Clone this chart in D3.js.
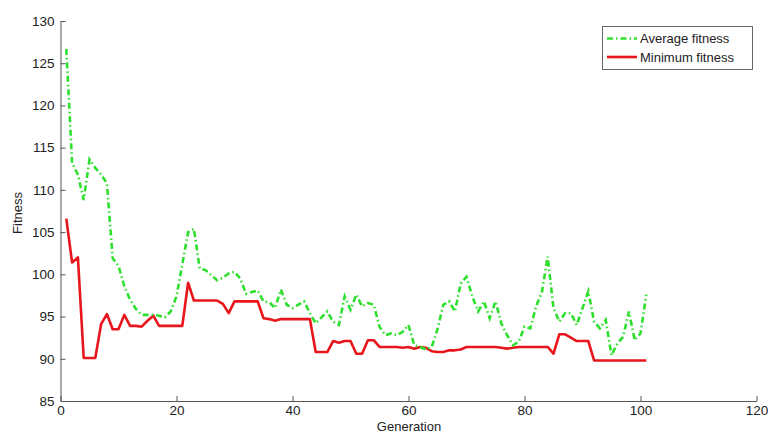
<!DOCTYPE html>
<html><head><meta charset="utf-8">
<script src="https://cdn.jsdelivr.net/npm/d3@7"></script>
<style>
html,body{margin:0;padding:0;background:#fff;}
svg{display:block;font-family:"Liberation Sans",Arial,sans-serif;}
</style></head>
<body><svg id="c" width="768" height="435"></svg>
<script>
const avgFitness = [126.7,113.2,111.8,108.8,113.6,112.6,111.8,110.8,101.9,101,
98.6,97,95.9,95.2,95.2,95.2,95.1,94.9,95.6,97.4,
101.2,105,105.4,100.7,100.5,99.9,99.3,99.6,100.1,100.3,
99.5,97.7,97.9,98.1,96.8,96.7,96.0,98.2,96.4,96.0,
96.4,96.8,95.4,94.2,94.9,95.6,94.4,94.0,97.4,95.8,
97.6,96.2,96.6,96.4,93.8,92.8,93,92.8,93.2,94,
91.6,91.4,91.1,91.4,93.5,96.4,96.8,95.6,98.9,99.7,
97.4,95.6,96.8,94.8,96.8,94.2,92.8,91.6,92,93.8,
93.6,96.2,97.9,102.1,96,94.4,95.4,95.4,94,96,
98,94.4,93.6,94.6,90.4,91.8,92.6,95.6,92.2,93,97.6];
const minFitness = [106.6,101.4,102,90.1,90.1,90.1,94.1,95.3,93.5,93.5,
95.2,93.9,93.9,93.8,94.5,95.1,93.9,93.9,93.9,93.9,
93.9,99,96.9,96.9,96.9,96.9,96.9,96.5,95.4,96.8,
96.8,96.8,96.8,96.8,94.8,94.7,94.5,94.7,94.7,94.7,
94.7,94.7,94.7,90.8,90.8,90.8,92.1,91.9,92.1,92.1,
90.6,90.6,92.2,92.2,91.4,91.4,91.4,91.4,91.3,91.4,
91.2,91.4,91.3,90.9,90.8,90.8,91,91,91.1,91.4,
91.4,91.4,91.4,91.4,91.4,91.3,91.2,91.3,91.4,91.4,
91.4,91.4,91.4,91.4,90.6,92.9,92.9,92.5,92.1,92.1,
92.1,89.8,89.8,89.8,89.8,89.8,89.8,89.8,89.8,89.8,89.8];
const generations = avgFitness.map((_, i) => i + 1);
const xTicks = [0,20,40,60,80,100,120];
const yTicks = [85,90,95,100,105,110,115,120,125,130];
const seriesNames = ["Average fitness","Minimum fitness"];

const svg = d3.select("#c");
const x = d3.scaleLinear().domain([0,120]).range([60.5,756.5]);
const y = d3.scaleLinear().domain([85,130]).range([401,21]);
const axisColor = "#555";

const gx = svg.append("g").attr("transform","translate(0,401)")
  .call(d3.axisBottom(x).tickValues(xTicks).tickSizeInner(-5).tickSizeOuter(0).tickPadding(4));
const gy = svg.append("g").attr("transform","translate(60.5,0)")
  .call(d3.axisLeft(y).tickValues(yTicks).tickSizeInner(-5).tickSizeOuter(0).tickPadding(6));
[gx,gy].forEach(g=>{
  g.selectAll("path,line").attr("stroke",axisColor).attr("stroke-width",1);
  g.selectAll("text").attr("fill","#222").style("font-size","13.5px").style("font-family","Liberation Sans, Arial, sans-serif");
});

svg.append("text").attr("x",409).attr("y",431).attr("text-anchor","middle")
  .attr("fill","#222").style("font-size","13px").text("Generation");
svg.append("text").attr("transform","translate(22,213) rotate(-90)").attr("text-anchor","middle")
  .attr("fill","#222").style("font-size","13px").text("Fitness");

const line = d3.line().x((d,i)=>x(generations[i])).y(d=>y(d));
const green = "#2ee02e", red = "#e8161c";
svg.append("path").datum(minFitness).attr("d",line).attr("fill","none")
  .attr("stroke",red).attr("stroke-width",2.6).attr("stroke-linejoin","round");
svg.append("path").datum(avgFitness).attr("d",line).attr("fill","none")
  .attr("stroke",green).attr("stroke-width",2.6).attr("stroke-dasharray","6,3,1.5,3");

const lg = svg.append("g");
lg.append("rect").attr("x",602.5).attr("y",26.5).attr("width",150).attr("height",43)
  .attr("fill","#fff").attr("stroke","#666").attr("stroke-width",1);
[[green,"6,3,1.5,3"],[red,null]].forEach((s,i)=>{
  const yy = 38.5 + i*18.5;
  const l = lg.append("line").attr("x1",607).attr("x2",637).attr("y1",yy).attr("y2",yy)
    .attr("stroke",s[0]).attr("stroke-width",2.6);
  if(s[1]) l.attr("stroke-dasharray",s[1]);
  lg.append("text").attr("x",640).attr("y",yy+4.5).attr("fill","#222")
    .style("font-size","13px").text(seriesNames[i]);
});
</script></body></html>
